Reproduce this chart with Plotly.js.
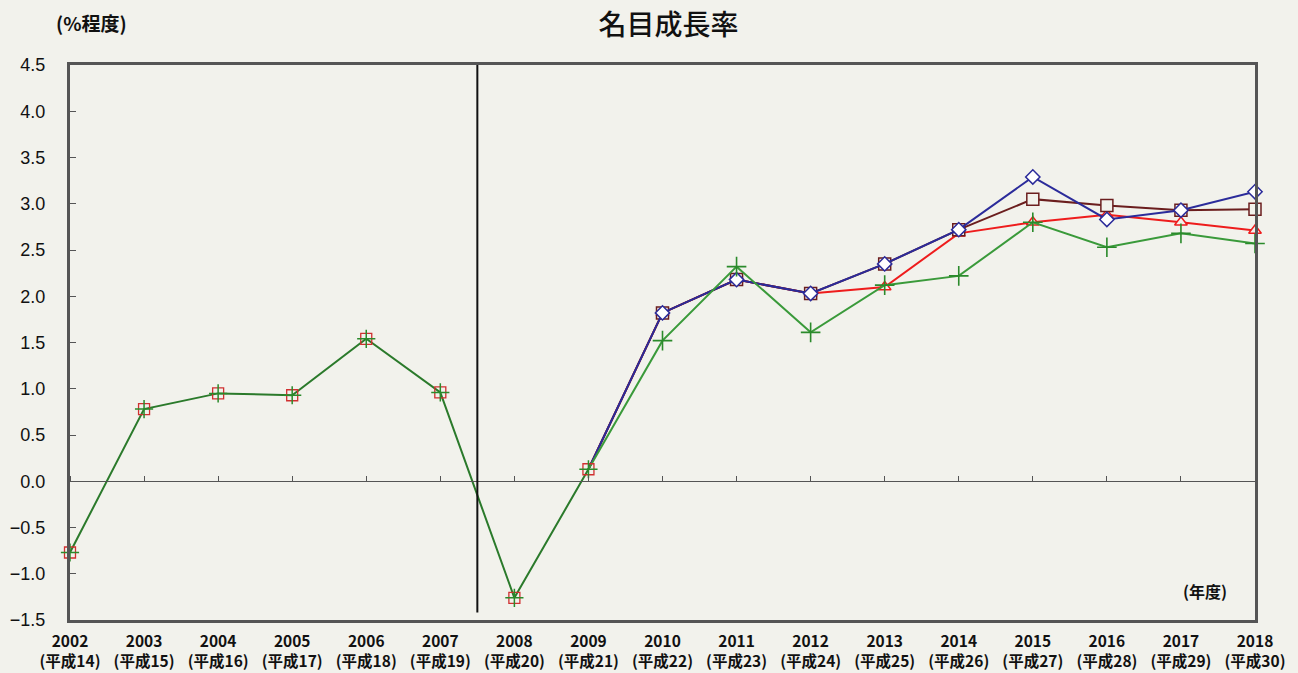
<!DOCTYPE html>
<html><head><meta charset="utf-8">
<script src="https://cdn.plot.ly/plotly-3.0.1.min.js"></script>
<style>html,body{margin:0;padding:0;background:#f2f2ec;}#chart{width:1298px;height:673px;}</style>
</head><body><div id="chart"></div>
<script>
// Years and labels
const years = [2002,2003,2004,2005,2006,2007,2008,2009,2010,2011,2012,2013,2014,2015,2016,2017,2018];
const heisei = ["平成14","平成15","平成16","平成17","平成18","平成19","平成20","平成21","平成22","平成23","平成24","平成25","平成26","平成27","平成28","平成29","平成30"];
const tickLabels = years.map((y,i)=> y + "<br>(" + heisei[i] + ")");

// Actual results 2002-2009
const actualYears = [2002,2003,2004,2005,2006,2007,2008,2009];
const actualVals  = [-0.77,0.78,0.95,0.93,1.54,0.96,-1.26,0.13];

// Projection scenarios 2009-2018 (first point = 2009 actual)
const projYears = [2009,2010,2011,2012,2013,2014,2015,2016,2017,2018];
const redVals   = [0.13,1.82,2.18,2.03,2.10,2.68,2.80,2.88,2.80,2.71];
const brownVals = [0.13,1.82,2.18,2.03,2.35,2.72,3.05,2.98,2.93,2.94];
const blueVals  = [0.13,1.82,2.18,2.03,2.35,2.72,3.29,2.83,2.93,3.13];
const greenVals = [0.13,1.52,2.32,1.61,2.12,2.22,2.80,2.53,2.68,2.57];

const divider = 2007.5;
const bg = '#f2f2ec';

function scenario(vals,color,marker){
  return [
    {x:projYears,y:vals,mode:'lines',line:{color:color,width:2},hoverinfo:'skip'},
    {x:projYears.slice(1),y:vals.slice(1),mode:'markers',marker:marker,cliponaxis:false}
  ];
}

const traces = [].concat(
  scenario(redVals,'#ee1c1c',{symbol:'triangle-up',size:11,color:bg,line:{color:'#ee1c1c',width:1.5}}),
  scenario(brownVals,'#6b1e1e',{symbol:'square',size:12,color:bg,line:{color:'#6b1e1e',width:1.5}}),
  scenario(blueVals,'#2b2b9a',{symbol:'diamond',size:11,color:'#ffffff',line:{color:'#2b2b9a',width:1.5}}),
  scenario(greenVals,'#3a9a3a',{symbol:'cross-thin-open',size:14,color:'#2b8a2b',line:{width:1.6,color:'#2b8a2b'}}),
  [
    {x:actualYears,y:actualVals,mode:'lines+markers',line:{color:'#2b7a2b',width:2},
     marker:{symbol:'square-open',size:11,color:'#d03030',line:{width:1.3}},cliponaxis:false},
    {x:actualYears,y:actualVals,mode:'markers',
     marker:{symbol:'cross-thin-open',size:13,color:'#2b8a2b',line:{width:1.5,color:'#2b8a2b'}},cliponaxis:false},
    // helper trace for zero-line axis ticks
    {x:[years[0]],y:[0],xaxis:'x2',mode:'markers',marker:{opacity:0},hoverinfo:'skip'}
  ]
);

const font = "'Noto Sans CJK JP', 'Noto Sans', sans-serif";
const layout = {
  width:1298,height:673,
  paper_bgcolor:bg,plot_bgcolor:bg,
  margin:{l:70,r:43,t:65,b:53},
  showlegend:false,
  font:{family:font,color:'#111'},
  title:{text:'名目成長率',x:0.515,xanchor:'center',y:0.962,yanchor:'middle',font:{size:28,family:font,color:'#111',weight:500}},
  xaxis:{range:[years[0],years[years.length-1]],tickmode:'array',tickvals:years,ticktext:tickLabels,
    showgrid:false,zeroline:false,showline:true,linecolor:'#555',linewidth:3,mirror:true,
    ticks:'',tickfont:{size:15.5,family:font,color:'#111',weight:'bold'},ticklabelstandoff:5},
  xaxis2:{range:[years[0],years[years.length-1]],overlaying:'x',anchor:'free',position:0.25,side:'top',
    tickmode:'array',tickvals:years,showticklabels:false,ticks:'outside',ticklen:5,tickcolor:'#555',
    showline:true,linecolor:'#555',linewidth:1,showgrid:false,zeroline:false},
  yaxis:{range:[-1.5,4.5],dtick:0.5,tickformat:'.1f',showgrid:false,zeroline:false,showline:true,
    linecolor:'#555',linewidth:3,mirror:true,ticks:'inside',ticklen:6,tickcolor:'#555',
    tickfont:{size:18,family:"'Liberation Sans', Arial, sans-serif",color:'#111'},ticklabelstandoff:18},
  shapes:[{type:'line',xref:'x',yref:'y',x0:divider,x1:divider,y0:-1.42,y1:4.5,line:{color:'#111',width:2}}],
  annotations:[
    {text:'(%程度)',xref:'paper',yref:'paper',x:0.018,y:1.076,xanchor:'center',yanchor:'middle',showarrow:false,
     font:{size:19,family:font,color:'#111',weight:'bold'}},
    {text:'(年度)',xref:'paper',yref:'paper',x:0.958,y:0.053,xanchor:'center',yanchor:'middle',showarrow:false,
     font:{size:16,family:font,color:'#111',weight:'bold'}}
  ]
};
Plotly.newPlot('chart',traces,layout,{displayModeBar:false,staticPlot:true});
</script></body></html>
